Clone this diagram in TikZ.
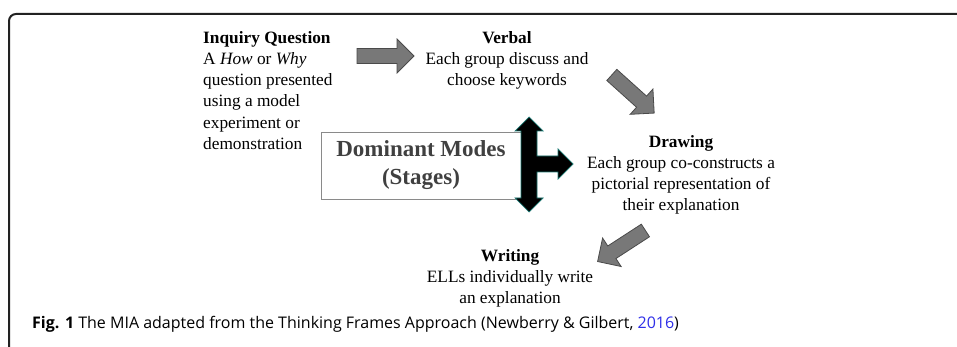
\documentclass[tikz,border=0pt]{standalone}
\usepackage{fontspec}
\setmainfont{Liberation Serif}
\newfontfamily\capfont{Open Sans}
\definecolor{framec}{HTML}{222222}
\definecolor{arrfill}{HTML}{787878}
\definecolor{arrdraw}{HTML}{4A4A4A}
\definecolor{modetext}{HTML}{404040}
\definecolor{boxline}{HTML}{8A8A8A}
\definecolor{tealedge}{HTML}{1E7A74}
\definecolor{linkblue}{HTML}{2F2FE8}
\tikzset{
  txt/.style={inner sep=0pt, anchor=north, font=\fontsize{17.3}{21.2}\selectfont},
  modebox/.style={draw=boxline, line width=0.9pt, inner sep=0pt, minimum width=200, minimum height=67,
    align=center, text=modetext, font=\fontsize{23}{28}\selectfont\bfseries},
  blockarrow/.pic={
    \path[fill=arrfill, draw=arrdraw, line width=0.8pt, line join=miter]
      (-28.5,-7.5) -- (11.5,-7.5) -- (11.5,-17) -- (28.5,0) -- (11.5,17) -- (11.5,7.5) -- (-28.5,7.5) -- cycle;
  }
}
\begin{document}
\begin{tikzpicture}[x=1pt,y=-1pt]
\useasboundingbox (0,0) rectangle (957,347);
% frame
\draw[framec, line width=2pt, rounded corners=7pt] (957,14) -- (9,14) -- (9,348);

% text blocks
\node[txt, anchor=north west, align=left] (inq) at (203,28.3)
  {\strut\textbf{Inquiry Question}\\A \textit{How} or \textit{Why}\\question presented\\using a model\\experiment or\\demonstration};
\node[txt, align=center] (verbal) at (507,28.3)
  {\strut\textbf{Verbal}\\Each group discuss and\\choose keywords};
\node[txt, align=center] (drawing) at (681,132.2)
  {\strut\textbf{Drawing}\\Each group co-constructs a\\pictorial representation of\\their explanation};
\node[txt, align=center] (writing) at (510,246.2)
  {\strut\textbf{Writing}\\ELLs individually write\\an explanation};

% dominant modes box
\node[modebox] (modes) at (421,165.5) {Dominant Modes\\(Stages)};

% T arrow
\path[fill=black, draw=tealedge, line width=0.7pt, line join=miter]
  (529,117) -- (543,131) -- (537,131) -- (537,156) -- (558,156) -- (558,149) -- (573,164)
  -- (558,179) -- (558,172) -- (537,172) -- (537,198) -- (543,198) -- (529,212)
  -- (515,198) -- (521,198) -- (521,131) -- (515,131) -- cycle;

% gray block arrows
\pic[rotate=0] (a1) at (385.5,56) {blockarrow};
\pic[rotate=-42] (a2) at (633,94) {blockarrow};
\pic[rotate=-147] (a3) at (621.5,246) {blockarrow};

% caption
\node[inner sep=0pt, anchor=base west, font=\capfont\fontsize{16}{19}\selectfont] (cap) at (32,328)
  {\textbf{Fig. 1} The MIA adapted from the Thinking Frames Approach (Newberry \& Gilbert, \textcolor{linkblue}{2016})};
\end{tikzpicture}
\end{document}
